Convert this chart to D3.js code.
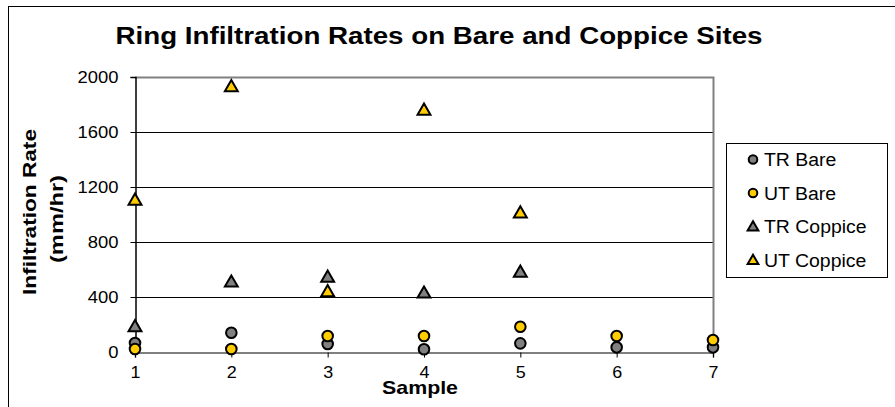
<!DOCTYPE html>
<html>
<head>
<meta charset="utf-8">
<script src="https://cdn.jsdelivr.net/npm/d3@7"></script>
<style>
  html, body { margin: 0; padding: 0; background: #fff; }
  svg { display: block; font-family: "Liberation Sans", Arial, sans-serif; }
</style>
</head>
<body>
<svg id="chart" width="895" height="407"></svg>
<script>
// Ring infiltration measurements (mm/hr) per sample
const samples = [1, 2, 3, 4, 5, 6, 7];
const trBare = [65, 140, 58, 20, 63, 34, 34];
const utBare = [22, 22, 116, 116, 184, 116, 87];
const trCoppice = [185, 510, 545, 430, 582, null, null];
const utCoppice = [1105, 1931, 440, 1760, 1013, null, null];
const yTicks = [0, 400, 800, 1200, 1600, 2000];
const xTicks = [1, 2, 3, 4, 5, 6, 7];

const series = [
  { name: "TR Bare", values: trBare, shape: "circle", fill: "#808080" },
  { name: "UT Bare", values: utBare, shape: "circle", fill: "#FFCC00" },
  { name: "TR Coppice", values: trCoppice, shape: "triangle", fill: "#808080" },
  { name: "UT Coppice", values: utCoppice, shape: "triangle", fill: "#FFCC00" }
];

const FONT = "'Liberation Sans', Arial, sans-serif";
const svg = d3.select("#chart");
const plot = { left: 135, right: 713, top: 77, bottom: 352 };

const x = d3.scaleLinear().domain([1, 7]).range([plot.left, plot.right]);
const y = d3.scaleLinear().domain([0, 2000]).range([plot.bottom, plot.top]);

// widen text horizontally to the chart's broad lettering
function widen(sel, factor) {
  sel.each(function () {
    const n = this.getComputedTextLength();
    d3.select(this).attr("textLength", n * factor).attr("lengthAdjust", "spacingAndGlyphs");
  });
}

// outer chart frame
svg.append("rect")
  .attr("x", 8.5).attr("y", 6.5).attr("width", 900).attr("height", 420)
  .attr("fill", "none").attr("stroke", "#000").attr("stroke-width", 1);

// title
svg.append("text")
  .attr("x", 439).attr("y", 44)
  .attr("text-anchor", "middle")
  .attr("font-size", 23).attr("font-weight", "bold")
  .text("Ring Infiltration Rates on Bare and Coppice Sites")
  .attr("textLength", 647).attr("lengthAdjust", "spacingAndGlyphs");

// horizontal gridlines
svg.append("g")
  .selectAll("line")
  .data(yTicks.filter(d => d > 0 && d < 2000))
  .join("line")
  .attr("x1", plot.left).attr("x2", plot.right)
  .attr("y1", d => Math.round(y(d)) + 0.5).attr("y2", d => Math.round(y(d)) + 0.5)
  .attr("stroke", "#000").attr("stroke-width", 1);

// plot area top and right borders
svg.append("path")
  .attr("d", `M${plot.left},${plot.top + 0.5}H${plot.right + 0.5}V${plot.bottom}`)
  .attr("fill", "none").attr("stroke", "#808080").attr("stroke-width", 2);

// y axis
const yAxis = svg.append("g")
  .attr("transform", `translate(${plot.left + 0.5},0)`)
  .call(d3.axisLeft(y).tickValues(yTicks).tickSize(5).tickPadding(12).tickFormat(d3.format("d")));
yAxis.select(".domain").attr("stroke", "#000").attr("stroke-width", 1.5);
yAxis.selectAll(".tick line").attr("stroke", "#000");
yAxis.selectAll(".tick text")
  .attr("font-size", 16).attr("fill", "#000")
  .attr("font-family", FONT)
  .call(widen, 1.15);

// x axis
const xAxis = svg.append("g")
  .attr("transform", `translate(0,${plot.bottom + 0.5})`)
  .call(d3.axisBottom(x).tickValues(xTicks).tickSize(5).tickPadding(9).tickFormat(d3.format("d")));
xAxis.select(".domain").attr("stroke", "#555").attr("stroke-width", 1.5);
xAxis.selectAll(".tick line").attr("stroke", "#000");
xAxis.selectAll(".tick text")
  .attr("font-size", 16).attr("fill", "#000")
  .attr("font-family", FONT)
  .call(widen, 1.12);

// axis titles
svg.append("text")
  .attr("x", 420).attr("y", 394)
  .attr("text-anchor", "middle")
  .attr("font-size", 19).attr("font-weight", "bold")
  .text("Sample")
  .attr("textLength", 76).attr("lengthAdjust", "spacingAndGlyphs");

const yTitle = svg.append("g").attr("transform", "translate(0,212) rotate(-90)");
yTitle.append("text")
  .attr("x", 0).attr("y", 36)
  .attr("text-anchor", "middle")
  .attr("font-size", 19).attr("font-weight", "bold")
  .text("Infiltration Rate")
  .attr("textLength", 166).attr("lengthAdjust", "spacingAndGlyphs");
yTitle.append("text")
  .attr("x", -7).attr("y", 63)
  .attr("text-anchor", "middle")
  .attr("font-size", 19).attr("font-weight", "bold")
  .text("(mm/hr)")
  .attr("textLength", 88).attr("lengthAdjust", "spacingAndGlyphs");

// marker shapes
const circleSym = d3.symbol().type(d3.symbolCircle).size(Math.PI * 5.3 * 5.3);
const triSym = d3.symbol().type(d3.symbolTriangle).size(72);

function markerPath(shape) {
  return shape === "circle" ? circleSym() : triSym();
}

// data points
series.forEach(s => {
  const pts = samples.map((d, i) => ({ x: d, v: s.values[i] })).filter(p => p.v != null);
  svg.append("g")
    .selectAll("path")
    .data(pts)
    .join("path")
    .attr("d", markerPath(s.shape))
    .attr("transform", p => `translate(${x(p.x)},${y(p.v) + (s.shape === "triangle" ? 1 : 0)})`)
    .attr("fill", s.fill)
    .attr("stroke", "#000")
    .attr("stroke-width", 2);
});

// legend
const legend = svg.append("g");
legend.append("rect")
  .attr("x", 726.5).attr("y", 143.5).attr("width", 161).attr("height", 134)
  .attr("fill", "#fff").attr("stroke", "#000").attr("stroke-width", 1);

const legendSym = {
  circle: d3.symbol().type(d3.symbolCircle).size(Math.PI * 4.3 * 4.3)(),
  triangle: d3.symbol().type(d3.symbolTriangle).size(50)()
};
const rows = legend.selectAll("g.row")
  .data(series)
  .join("g")
  .attr("class", "row")
  .attr("transform", (d, i) => `translate(0,${159.5 + i * 33.5})`);
rows.append("path")
  .attr("d", d => legendSym[d.shape])
  .attr("transform", d => `translate(753,${d.shape === "triangle" ? 1 : 0})`)
  .attr("fill", d => d.fill)
  .attr("stroke", "#000").attr("stroke-width", 2);
rows.append("text")
  .attr("x", 764).attr("y", 6.5)
  .attr("font-size", 18)
  .attr("font-family", FONT)
  .text(d => d.name)
  .call(widen, 1.08);
</script>
</body>
</html>
